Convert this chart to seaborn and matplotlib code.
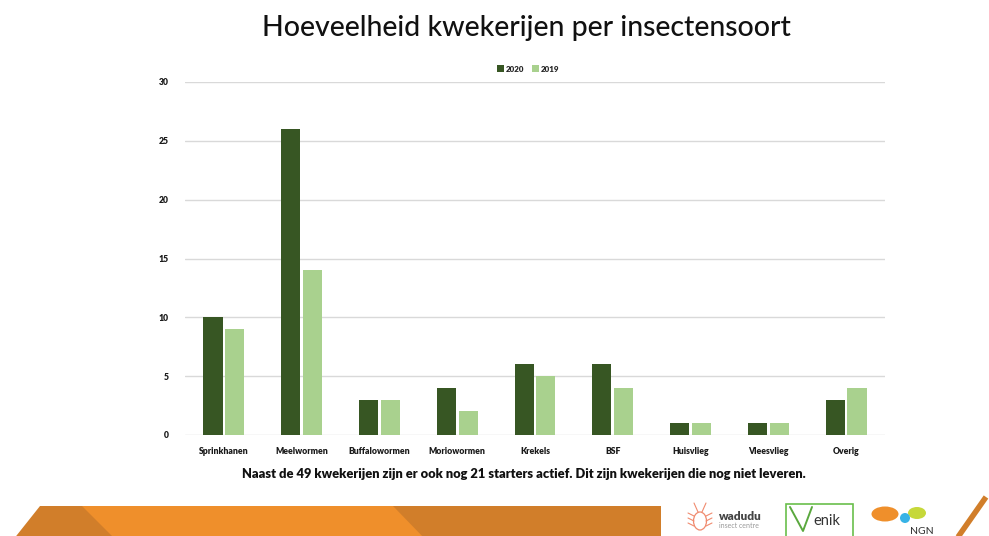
import matplotlib
matplotlib.use("Agg")
import matplotlib.pyplot as plt
from matplotlib.patches import Polygon, Ellipse, Circle, Rectangle
import seaborn as sns
import pandas as pd

categories = ["Sprinkhanen", "Meelwormen", "Buffalowormen", "Moriowormen", "Krekels",
              "BSF", "Huisvlieg", "Vleesvlieg", "Overig"]
values_2020 = [10, 26, 3, 4, 6, 6, 1, 1, 3]
values_2019 = [9, 14, 3, 2, 5, 4, 1, 1, 4]
years = ["2020", "2019"]
y_ticks = [0, 5, 10, 15, 20, 25, 30]

title = "Hoeveelheid kwekerijen per insectensoort"
footnote = ("Naast de 49 kwekerijen zijn er ook nog 21 starters actief. "
            "Dit zijn kwekerijen die nog niet leveren.")

df = pd.DataFrame({
    "soort": categories * 2,
    "jaar": [years[0]] * len(categories) + [years[1]] * len(categories),
    "aantal": values_2020 + values_2019,
})

sns.set_theme(style="white")
plt.rcParams["font.family"] = ["Lato", "DejaVu Sans"]

W, H = 989, 536
fig = plt.figure(figsize=(W / 100, H / 100), dpi=100)
fig.patch.set_facecolor("white")

ax = fig.add_axes([185 / W, 1 - 435 / H, 700 / W, 353 / H])
palette = {"2020": "#375623", "2019": "#a9d18e"}
sns.barplot(data=df, x="soort", y="aantal", hue="jaar", hue_order=years,
            palette=palette, width=0.56, gap=0.12, saturation=1,
            edgecolor="none", ax=ax, zorder=3)

ax.set_ylim(0, 30)
ax.set_yticks(y_ticks)
ax.set_xlim(-0.5, len(categories) - 0.5)
ax.set_xlabel("")
ax.set_ylabel("")
ax.grid(axis="y", color="#d9d9d9", linewidth=1.0, zorder=0)
ax.grid(axis="x", visible=False)
for s in ax.spines.values():
    s.set_visible(False)
ax.tick_params(axis="both", length=0, labelsize=6.2, colors="#1a1a1a")
ax.tick_params(axis="x", pad=9)
ax.tick_params(axis="y", pad=12)
for lbl in ax.get_xticklabels() + ax.get_yticklabels():
    lbl.set_fontweight("heavy")

leg = ax.legend(loc="center", bbox_to_anchor=(528 / W, 1 - 69 / H),
                bbox_transform=fig.transFigure, ncol=2, frameon=False,
                prop={"size": 5.8, "weight": "heavy"}, handlelength=0.9,
                handleheight=0.9, handletextpad=0.25, columnspacing=0.9)

fig.text(526 / W, 1 - 28 / H, title, ha="center", va="center",
         fontsize=20.5, color="#111111", fontweight="medium")
fig.text(524 / W, 1 - 474 / H, footnote, ha="center", va="center",
         fontsize=9.3, fontweight="heavy", color="#111111")

# footer decoration drawn in pixel coordinates
deco = fig.add_axes([0, 0, 1, 1], zorder=-1)
deco.set_xlim(0, W)
deco.set_ylim(H, 0)
deco.axis("off")
deco.patch.set_alpha(0)

dark_or = "#d17e2a"
light_or = "#ef8f2b"
top, bot = 506, 540
deco.add_patch(Polygon([(40, top), (661, top), (661, bot), (13, bot)],
                       closed=True, facecolor=dark_or, edgecolor="none"))
deco.add_patch(Polygon([(82, top), (393, top), (426, bot), (116, bot)],
                       closed=True, facecolor=light_or, edgecolor="none"))

# wadudu logo
bug = "#f08a6e"
deco.add_patch(Ellipse((700, 521), 13, 18, facecolor="none", edgecolor=bug, lw=0.9))
for dx in (-1, 1):
    deco.plot([700 + dx * 2, 700 + dx * 6], [512, 503], color=bug, lw=0.8)
    for yy in (516, 521, 526):
        deco.plot([700 + dx * 6, 700 + dx * 12], [yy, yy - 3], color=bug, lw=0.8)
deco.text(719, 516, "wadudu", fontsize=8.5, fontweight="heavy", color="#444444",
          ha="left", va="center")
deco.text(719, 526, "insect centre", fontsize=5, color="#999999",
          ha="left", va="center")

# Venik logo
deco.add_patch(Rectangle((786, 504), 67, 33, facecolor="white",
                         edgecolor="#6abf4b", lw=1.2))
deco.plot([790, 803, 812], [507, 531, 507], color="#5aa83e", lw=1.4)
deco.text(813, 521, "enik", fontsize=10.5, color="#333333", ha="left", va="center")

# NGN logo
deco.add_patch(Ellipse((885, 514), 27, 15, facecolor="#ef8f2b", edgecolor="none"))
deco.add_patch(Ellipse((917, 513), 18, 12, facecolor="#c6d83a", edgecolor="none"))
deco.add_patch(Circle((905, 518), 5, facecolor="#37b3e6", edgecolor="none"))
deco.text(922, 531, "NGN", fontsize=7.5, color="#333333", ha="center", va="center")

deco.plot([958, 986], [537, 497], color=dark_or, lw=4, solid_capstyle="butt")

fig.savefig("out.png", dpi=100, facecolor="white")
